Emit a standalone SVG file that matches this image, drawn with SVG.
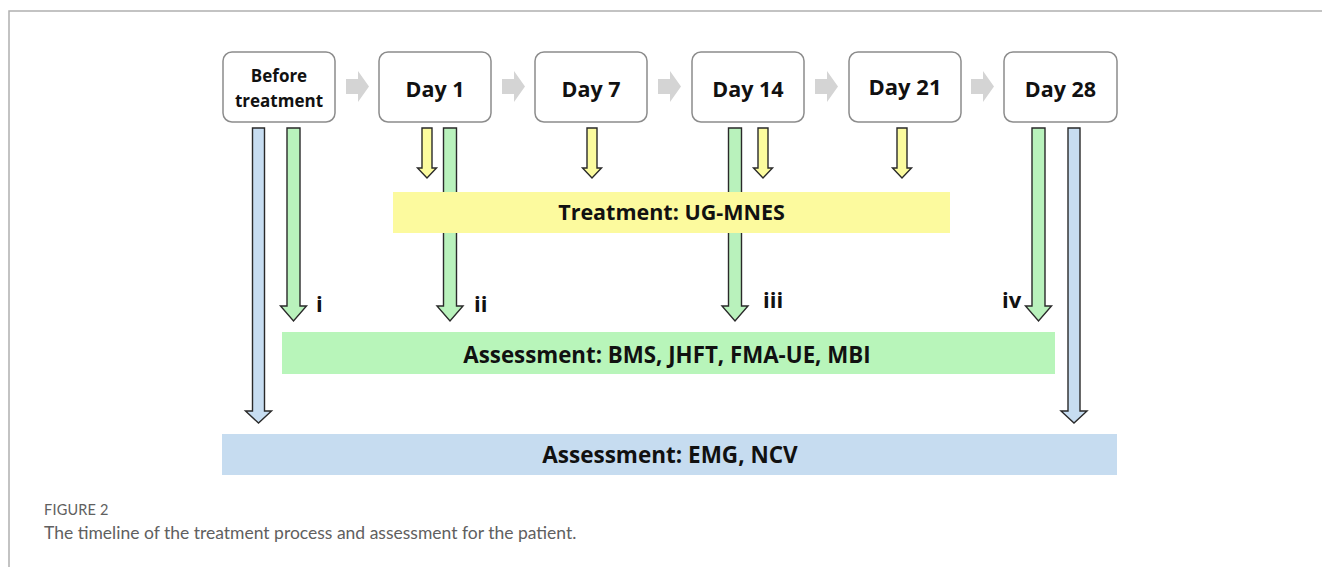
<svg xmlns="http://www.w3.org/2000/svg" width="1322" height="567" viewBox="0 0 1322 567">
<style>
.frame{stroke:#b0b0b0;stroke-width:1.5;fill:none}
.box{fill:#fff;stroke:#8c8c8c;stroke-width:1.5}
.lbl{font-family:"Open Sans","Liberation Sans",sans-serif;font-weight:700;fill:#111;text-anchor:middle}
.step{fill:#d4d4d4}
.ga{fill:#b9f2bc;stroke:#2a2a2a;stroke-width:1.4}
.ya{fill:#fbfb9e;stroke:#2a2a2a;stroke-width:1.4}
.ba{fill:#c7ddf1;stroke:#2a2a2a;stroke-width:1.4}
.rom{font-family:"Open Sans","Liberation Sans",sans-serif;font-weight:700;fill:#111;font-size:22px}
.cap{font-family:Lato,"Liberation Sans",sans-serif;fill:#606060}
</style>
<path class="frame" d="M9,567 V11 H1322"/>
<g id="connectors">
  <polygon class="step" points="346,79 358,79 358,71 369,86.5 358,102 358,94 346,94"/>
  <polygon class="step" points="502,79 514,79 514,71 525,86.5 514,102 514,94 502,94"/>
  <polygon class="step" points="658,79 670,79 670,71 681,86.5 670,102 670,94 658,94"/>
  <polygon class="step" points="815,79 827,79 827,71 838,86.5 827,102 827,94 815,94"/>
  <polygon class="step" points="971,79 983,79 983,71 994,86.5 983,102 983,94 971,94"/>
  <polygon class="ba" points="252.5,128 264.5,128 264.5,411 271.5,411 258.5,423 245.5,411 252.5,411"/>
  <polygon class="ba" points="1068,128 1080,128 1080,411 1087,411 1074,423 1061,411 1068,411"/>
  <polygon class="ga" points="287,128 300,128 300,306 306.5,306 293.5,321 280.5,306 287,306"/>
  <polygon class="ga" points="443.5,128 456.5,128 456.5,306 463,306 450,321 437,306 443.5,306"/>
  <polygon class="ga" points="728.5,128 741.5,128 741.5,306 748,306 735,321 722,306 728.5,306"/>
  <polygon class="ga" points="1032,128 1045,128 1045,306 1051.5,306 1038.5,321 1025.5,306 1032,306"/>
  <polygon class="ya" points="422,128 432,128 432,168 436.5,168 427,178 417.5,168 422,168"/>
  <polygon class="ya" points="587,128 597,128 597,168 601.5,168 592,178 582.5,168 587,168"/>
  <polygon class="ya" points="758,128 768,128 768,168 772.5,168 763,178 753.5,168 758,168"/>
  <polygon class="ya" points="897,128 907,128 907,168 911.5,168 902,178 892.5,168 897,168"/>
  <text class="rom" x="316" y="312">i</text>
  <text class="rom" x="474" y="312">ii</text>
  <text class="rom" x="763" y="308">iii</text>
  <text class="rom" x="1002" y="308">iv</text>
</g>
<g id="before">
  <rect class="box" x="223" y="52" width="112" height="70" rx="9"/>
  <text class="lbl" x="279" y="82" font-size="17">Before</text>
  <text class="lbl" x="279" y="107" font-size="17">treatment</text>
</g>
<g id="day1">
  <rect class="box" x="379" y="52" width="112" height="70" rx="9"/>
  <text class="lbl" x="435" y="97" font-size="21.5">Day 1</text>
</g>
<g id="day7">
  <rect class="box" x="535" y="52" width="112" height="70" rx="9"/>
  <text class="lbl" x="591" y="97" font-size="21.5">Day 7</text>
</g>
<g id="day14">
  <rect class="box" x="692" y="52" width="112" height="70" rx="9"/>
  <text class="lbl" x="748" y="97" font-size="21.5">Day 14</text>
</g>
<g id="day21">
  <rect class="box" x="849" y="52" width="112" height="70" rx="9"/>
  <text class="lbl" x="905" y="95" font-size="22" font-weight="600">Day 21</text>
</g>
<g id="day28">
  <rect class="box" x="1004" y="52" width="113" height="70" rx="9"/>
  <text class="lbl" x="1060.5" y="97" font-size="21.5">Day 28</text>
</g>
<g id="treatment">
  <rect x="393" y="192" width="557" height="41" fill="#fcfa9e"/>
  <text class="lbl" x="671.5" y="220" font-size="21.5">Treatment: UG-MNES</text>
</g>
<g id="assessment1">
  <rect x="282" y="332" width="773" height="42" fill="#b8f5ba"/>
  <text class="lbl" x="667" y="363" font-size="22.3">Assessment: BMS, JHFT, FMA-UE, MBI</text>
</g>
<g id="assessment2">
  <rect x="222" y="434" width="895" height="41" fill="#c6dcf0"/>
  <text class="lbl" x="670" y="463" font-size="22.5">Assessment: EMG, NCV</text>
</g>
<text class="cap" x="44" y="515" font-size="14.5" letter-spacing="0.2">FIGURE 2</text>
<text class="cap" x="44" y="539" font-size="17.5">The timeline of the treatment process and assessment for the patient.</text>
</svg>
